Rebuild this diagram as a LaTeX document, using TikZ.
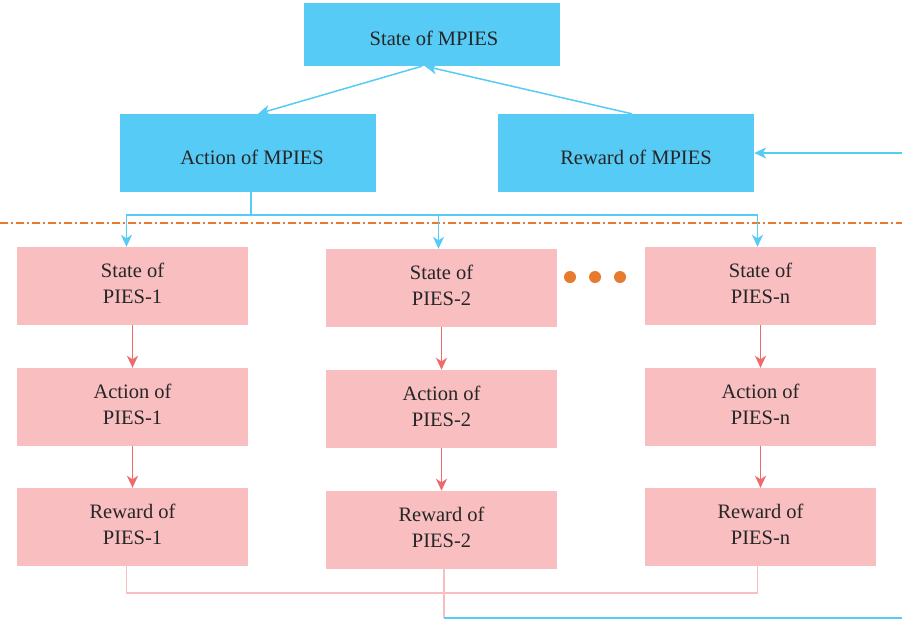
\documentclass[tikz,border=0pt]{standalone}
\usepackage{fontspec}
\setmainfont{Liberation Serif}
\usetikzlibrary{arrows.meta}
\definecolor{mpblue}{HTML}{56CBF5}
\definecolor{mppink}{HTML}{F8BEC0}
\definecolor{mpred}{HTML}{EE6B6B}
\definecolor{mporange}{HTML}{E87A2E}
\begin{document}
\begin{tikzpicture}[x=1pt,y=-1pt,
  bluebox/.style={fill=mpblue, minimum width=256pt, minimum height=78pt, inner sep=0pt, font=\fontsize{20.5}{24}\selectfont, text=black!85, text height=22pt, text depth=0pt},
  pinkbox/.style={fill=mppink, minimum width=231pt, minimum height=78pt, inner sep=0pt, align=center, font=\fontsize{20.5}{26}\selectfont, text=black!85, text height=40pt, text depth=6pt},
  bline/.style={draw=mpblue, line width=1.5pt},
  barrow/.style={bline, -{Stealth[length=12pt,width=11pt,inset=3.5pt]}},
  rarrow/.style={draw=mpred, line width=1.5pt, -{Stealth[length=12pt,width=11pt,inset=3.5pt]}},
  pline/.style={draw=mppink, line width=1.5pt},
  dotstyle/.style={fill=mporange}
]
\useasboundingbox (0,0) rectangle (902,622);
% top level
\node[bluebox, minimum height=63pt, text height=21pt] (st) at (432,34.5) {\hspace*{4pt}State of MPIES};
\node[bluebox] (ac) at (248,153) {\hspace*{8pt}Action of MPIES};
\node[bluebox] (rw) at (626,153) {\hspace*{20pt}Reward of MPIES};
% separator
\coordinate (sepL) at (0,223);
\coordinate (sepR) at (902,223);
\draw[mporange, line width=1.3pt, dash pattern=on 8pt off 3pt on 2pt off 3pt] (sepL) -- (sepR);
% columns
\node[pinkbox] (s1) at (132.5,286) {State of\\PIES-1};
\node[pinkbox] (a1) at (132.5,407) {Action of\\PIES-1};
\node[pinkbox] (r1) at (132.5,527) {Reward of\\PIES-1};
\node[pinkbox] (s2) at (441.5,288) {State of\\PIES-2};
\node[pinkbox] (a2) at (441.5,409) {Action of\\PIES-2};
\node[pinkbox] (r2) at (441.5,530) {Reward of\\PIES-2};
\node[pinkbox] (sn) at (760.5,286) {State of\\PIES-n};
\node[pinkbox] (an) at (760.5,407) {Action of\\PIES-n};
\node[pinkbox] (rn) at (760.5,527) {Reward of\\PIES-n};
% dots
\fill[dotstyle] (570,277) circle (6);
\fill[dotstyle] (595,277) circle (6);
\fill[dotstyle] (620,277) circle (6);
% top arrows
\draw[barrow] ([xshift=-10pt]st.south) -- ([xshift=10pt]ac.north);
\draw[barrow] ([xshift=6pt]rw.north) -- ([xshift=-7pt]st.south);
% distribution bus
\coordinate (bus) at (251,215);
\draw[bline] ([xshift=3pt]ac.south) -- (bus);
\draw[barrow] (bus) -| ([xshift=-6pt]s1.north);
\draw[barrow] (bus) -| ([xshift=-3pt]sn.north);
\draw[barrow] (s2.north |- bus) ++(-3,0) -- ([xshift=-3pt]s2.north);
% red arrows
\draw[rarrow] (s1) -- (a1);
\draw[rarrow] (a1) -- (r1);
\draw[rarrow] (s2) -- (a2);
\draw[rarrow] (a2) -- (r2);
\draw[rarrow] (sn) -- (an);
\draw[rarrow] (an) -- (rn);
% bottom collection
\draw[pline] ([xshift=-6pt]r1.south) -- ++(0,27) -| ([xshift=-3pt]rn.south);
\coordinate (fbA) at (444,618);
\coordinate (fbB) at (902,618);
\coordinate (fbC) at (902,153);
\draw[pline] ([xshift=2.5pt]r2.south) -- (fbA);
\draw[bline] (fbA) -- (fbB);
\draw[barrow] (fbC) -- (rw.east);
\end{tikzpicture}
\end{document}
